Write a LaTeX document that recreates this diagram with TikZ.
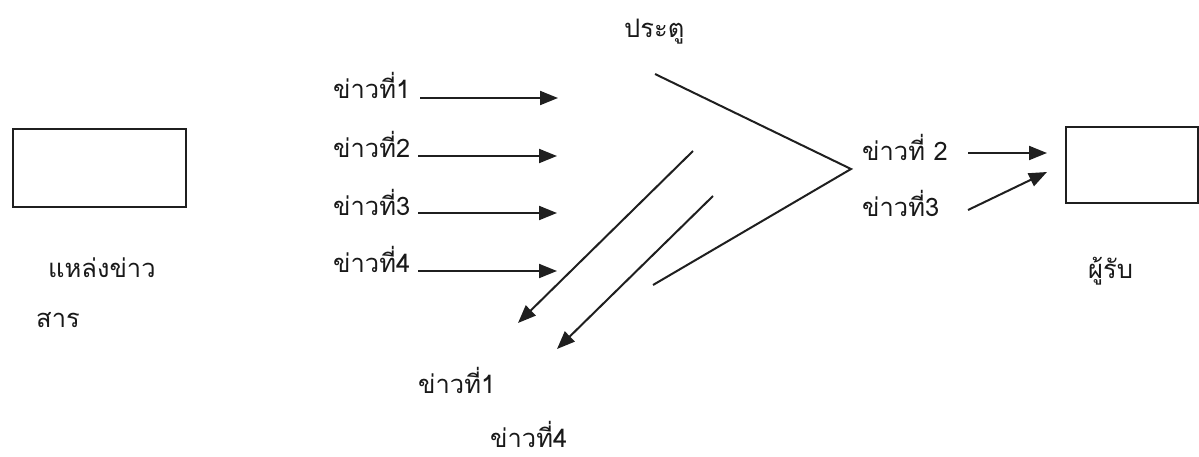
\documentclass[tikz,border=0pt]{standalone}
\usepackage{fontspec}
\newfontfamily\thaifont[Script=Thai]{Loma}
\usetikzlibrary{arrows.meta}
\begin{document}
\begin{tikzpicture}[x=1pt,y=-1pt,
  lbl/.style={font=\thaifont\fontsize{25.5}{30}\selectfont, inner sep=0pt, anchor=base west, text=black!90},
  ln/.style={line width=2pt, draw=black!88},
  arr/.style={ln, -{Triangle[length=18pt,width=14pt]}},
  box/.style={draw=black!88, line width=2pt}]
\useasboundingbox (0,0) rectangle (1199,456);
% boxes
\draw[box] (13,129) rectangle (186,207);
\draw[box] (1066,127) rectangle (1198,203);
% source labels
\node[lbl] (srcA) at (48,277) {แหล่งข่าว};
\node[lbl] (srcB) at (36,327) {สาร};
\node[lbl] (rcv) at (1088,278) {ผู้รับ};
\node[lbl] (gate) at (624,37) {ประตู};
% left messages
\node[lbl] (m1) at (333,98) {ข่าวที่1};
\node[lbl] (m2) at (333,157) {ข่าวที่2};
\node[lbl] (m3) at (333,215) {ข่าวที่3};
\node[lbl] (m4) at (333,272) {ข่าวที่4};
\coordinate (e1) at (558,98);
\coordinate (e2) at (557,156);
\coordinate (e3) at (557,213);
\coordinate (e4) at (557,271);
\draw[arr] (420,98) -- (e1);
\draw[arr] (418,156) -- (e2);
\draw[arr] (418,213) -- (e3);
\draw[arr] (418,271) -- (e4);
% funnel
\coordinate (ft) at (655,74);
\coordinate (apex) at (851,169);
\coordinate (fb) at (653,285);
\draw[ln] (ft) -- (apex) -- (fb);
% rejected
\coordinate (r1s) at (693,151);
\coordinate (r1e) at (518,323);
\coordinate (r2s) at (713,196);
\coordinate (r2e) at (557,349);
\draw[arr] (r1s) -- (r1e);
\draw[arr] (r2s) -- (r2e);
\node[lbl] (b1) at (418,393) {ข่าวที่1};
\node[lbl] (b4) at (490,447) {ข่าวที่4};
% right messages
\node[lbl] (o2) at (862,160) {ข่าวที่ 2};
\node[lbl] (o3) at (862,216) {ข่าวที่3};
\coordinate (o2s) at (968,153);
\coordinate (o2e) at (1047,153);
\coordinate (o3s) at (968,210);
\coordinate (o3e) at (1047,172);
\draw[arr] (o2s) -- (o2e);
\draw[arr] (o3s) -- (o3e);
\end{tikzpicture}
\end{document}
